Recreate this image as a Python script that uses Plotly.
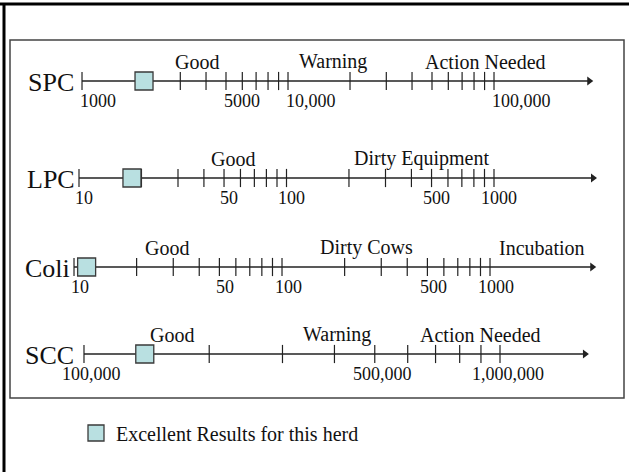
import numpy as np
import plotly.graph_objects as go

W, H = 629, 472
FONT = "Liberation Serif"

# ---- data -------------------------------------------------------------
rows = ["SPC", "LPC", "Coli", "SCC"]

# start value and arrow-tip value of each scale
spans = {
    "SPC": [1000, 290000],
    "LPC": [10, 3000],
    "Coli": [10, 3100],
    "SCC": [100000, 1600000],
}

spc_ticks = [1000, 2000, 3000, 4000, 5000, 6000, 7000, 8000, 9000,
             10000, 20000, 30000, 40000, 50000, 60000, 70000, 80000, 90000, 100000]
lpc_ticks = [10, 20, 30, 40, 50, 60, 70, 80, 90,
             100, 200, 300, 400, 500, 600, 700, 800, 900, 1000]
coli_ticks = [10, 20, 30, 40, 50, 60, 70, 80, 90,
              100, 200, 300, 400, 500, 600, 700, 800, 900, 1000]
scc_ticks = [100000, 200000, 300000, 400000, 500000,
             600000, 700000, 800000, 900000, 1000000]

spc_tick_labels = {1000: "1000", 5000: "5000", 10000: "10,000", 100000: "100,000"}
lpc_tick_labels = {10: "10", 50: "50", 100: "100", 500: "500", 1000: "1000"}
coli_tick_labels = {10: "10", 50: "50", 100: "100", 500: "500", 1000: "1000"}
scc_tick_labels = {100000: "100,000", 500000: "500,000", 1000000: "1,000,000"}

# zone names and the scale value each name sits over
spc_zones = {"Good": 3600, "Warning": 16500, "Action Needed": 91000}
lpc_zones = {"Good": 55, "Dirty Equipment": 445}
coli_zones = {"Good": 28, "Dirty Cows": 256, "Incubation": 1780}
scc_zones = {"Good": 163000, "Warning": 406000, "Action Needed": 899000}

# this herd's results
herd = {"SPC": 2000, "LPC": 18, "Coli": 11.5, "SCC": 140000}

ticks = {"SPC": spc_ticks, "LPC": lpc_ticks, "Coli": coli_ticks, "SCC": scc_ticks}
tick_labels = {"SPC": spc_tick_labels, "LPC": lpc_tick_labels,
               "Coli": coli_tick_labels, "SCC": scc_tick_labels}
zones = {"SPC": spc_zones, "LPC": lpc_zones, "Coli": coli_zones, "SCC": scc_zones}

# ---- layout of the four number lines ----------------------------------
row_y = {"SPC": 81, "LPC": 178, "Coli": 267, "SCC": 354}
name_right = {"SPC": 76, "LPC": 77, "Coli": 72, "SCC": 76}
x_ranges = {
    "SPC": [2.6019, 5.6553],
    "LPC": [0.6193, 3.6506],
    "Coli": [0.6442, 3.6682],
    "SCC": [4.7981, 6.3101],
}
label_style = {  # anchor and nudge of the numbers under each line
    "SPC": ("left", -4),
    "LPC": ("center", 5),
    "Coli": ("center", 6),
    "SCC": ("center", 8),
}

LINE = "#222222"
BOX_FILL = "#b9e0e1"
BOX_EDGE = "#3a3a3a"

fig = go.Figure()
annotations = []

for i, name in enumerate(rows):
    xa = "x" if i == 0 else f"x{i + 1}"
    y0 = row_y[name]
    start, end = spans[name]

    # axis line
    fig.add_trace(go.Scatter(x=[start, end], y=[y0, y0], xaxis=xa, yaxis="y",
                             mode="lines", line=dict(color=LINE, width=1.3),
                             hoverinfo="skip", showlegend=False))
    # arrow head
    fig.add_trace(go.Scatter(x=[end], y=[y0], xaxis=xa, yaxis="y", mode="markers",
                             marker=dict(symbol="triangle-right", size=8, color=LINE),
                             hoverinfo="skip", showlegend=False))
    # tick marks crossing the line
    fig.add_trace(go.Scatter(x=ticks[name], y=[y0] * len(ticks[name]), xaxis=xa, yaxis="y",
                             mode="markers",
                             marker=dict(symbol="line-ns", size=13,
                                         line=dict(color=LINE, width=1.2)),
                             hoverinfo="skip", showlegend=False))
    # herd result
    fig.add_trace(go.Scatter(x=[herd[name]], y=[y0], xaxis=xa, yaxis="y", mode="markers",
                             marker=dict(symbol="square", size=18, color=BOX_FILL,
                                         line=dict(color=BOX_EDGE, width=1.3)),
                             name="Excellent Results for this herd",
                             legendgroup="herd", showlegend=(i == 0),
                             hovertemplate=name + ": %{x}<extra></extra>"))

    # row name
    annotations.append(dict(text=name, xref="paper", yref="y", x=name_right[name] / W, y=y0,
                            xanchor="right", yanchor="middle", yshift=-1, showarrow=False,
                            font=dict(family=FONT, size=26, color="#111")))
    # numbers under the line
    anchor, shift = label_style[name]
    for v, txt in tick_labels[name].items():
        annotations.append(dict(text=txt, xref=xa, yref="y", x=np.log10(v), y=y0 + 8,
                                xanchor=anchor, yanchor="top", xshift=shift,
                                showarrow=False,
                                font=dict(family=FONT, size=18, color="#111")))
    # zone names above the line
    for txt, v in zones[name].items():
        annotations.append(dict(text=txt, xref=xa, yref="y", x=np.log10(v), y=y0 - 6,
                                xanchor="center", yanchor="bottom", showarrow=False,
                                font=dict(family=FONT, size=20, color="#111")))

layout_axes = {}
for i, name in enumerate(rows):
    key = "xaxis" if i == 0 else f"xaxis{i + 1}"
    ax = dict(type="log", range=x_ranges[name], domain=[0, 1], visible=False,
              fixedrange=True)
    if i > 0:
        ax["overlaying"] = "x"
    ax["anchor"] = "y"
    layout_axes[key] = ax

shapes = [
    # heavy outer frame
    dict(type="line", xref="paper", yref="paper", x0=0, x1=1,
         y0=1 - 4 / H, y1=1 - 4 / H, line=dict(color="#000", width=3)),
    dict(type="line", xref="paper", yref="paper", x0=4 / W, x1=4 / W,
         y0=0, y1=1 - 3 / H, line=dict(color="#000", width=3)),
    # inner box around the scales
    dict(type="rect", xref="paper", yref="paper", x0=10 / W, x1=624 / W,
         y0=1 - 398 / H, y1=1 - 40 / H, line=dict(color="#444", width=1.5)),
]

fig.update_layout(
    width=W, height=H,
    margin=dict(l=0, r=0, t=0, b=0),
    paper_bgcolor="white", plot_bgcolor="white",
    yaxis=dict(range=[H, 0], domain=[0, 1], visible=False, fixedrange=True),
    annotations=annotations,
    shapes=shapes,
    showlegend=True,
    legend=dict(x=76 / W, y=1 - 433 / H, xanchor="left", yanchor="middle",
                itemsizing="trace", bgcolor="rgba(0,0,0,0)",
                font=dict(family=FONT, size=20, color="#111")),
    **layout_axes,
)

fig.write_html("out.html")
